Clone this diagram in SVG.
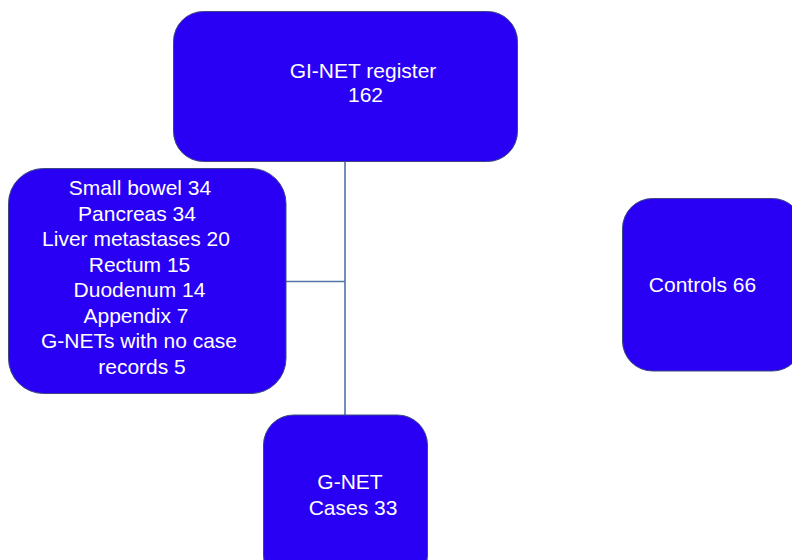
<svg xmlns="http://www.w3.org/2000/svg" width="792" height="560" viewBox="0 0 792 560">
<style>
.box{fill:#2a00f5;stroke:#3a4a80;stroke-width:1}
.t{font-family:"Liberation Sans",Arial,sans-serif;font-size:21px;fill:#ffffff}
.c{text-anchor:middle}
.conn{stroke:#4f74a8;stroke-width:1.6;fill:none}
</style>
<rect width="792" height="560" fill="#ffffff"/>
<g id="connectors">
<line class="conn" x1="345" y1="161" x2="345" y2="415"/>
<line class="conn" x1="286" y1="281.5" x2="345" y2="281.5"/>
</g>
<g id="register">
<rect class="box" x="173.5" y="11.5" width="344" height="150" rx="30" ry="30"/>
<text class="t c" x="363" y="78">GI-NET register</text>
<text class="t c" x="365.5" y="102">162</text>
</g>
<g id="sites">
<rect class="box" x="8.5" y="168.5" width="277.5" height="225" rx="35" ry="35"/>
<text class="t c" x="140" y="195">Small bowel 34</text>
<text class="t c" x="137" y="220.7">Pancreas 34</text>
<text class="t c" x="136" y="246.3">Liver metastases 20</text>
<text class="t c" x="139.5" y="271.8">Rectum 15</text>
<text class="t c" x="139.5" y="297.4">Duodenum 14</text>
<text class="t c" x="136" y="322.9">Appendix 7</text>
<text class="t c" x="139" y="348.4">G-NETs with no case</text>
<text class="t c" x="142" y="373.6">records 5</text>
</g>
<g id="cases">
<rect class="box" x="263.5" y="415" width="164" height="170" rx="30" ry="30"/>
<text class="t c" x="350" y="489">G-NET</text>
<text class="t c" x="353" y="515">Cases 33</text>
</g>
<g id="controls">
<rect class="box" x="622.5" y="198.5" width="180" height="172.5" rx="30" ry="30"/>
<text class="t c" x="702.5" y="292">Controls 66</text>
</g>
</svg>
